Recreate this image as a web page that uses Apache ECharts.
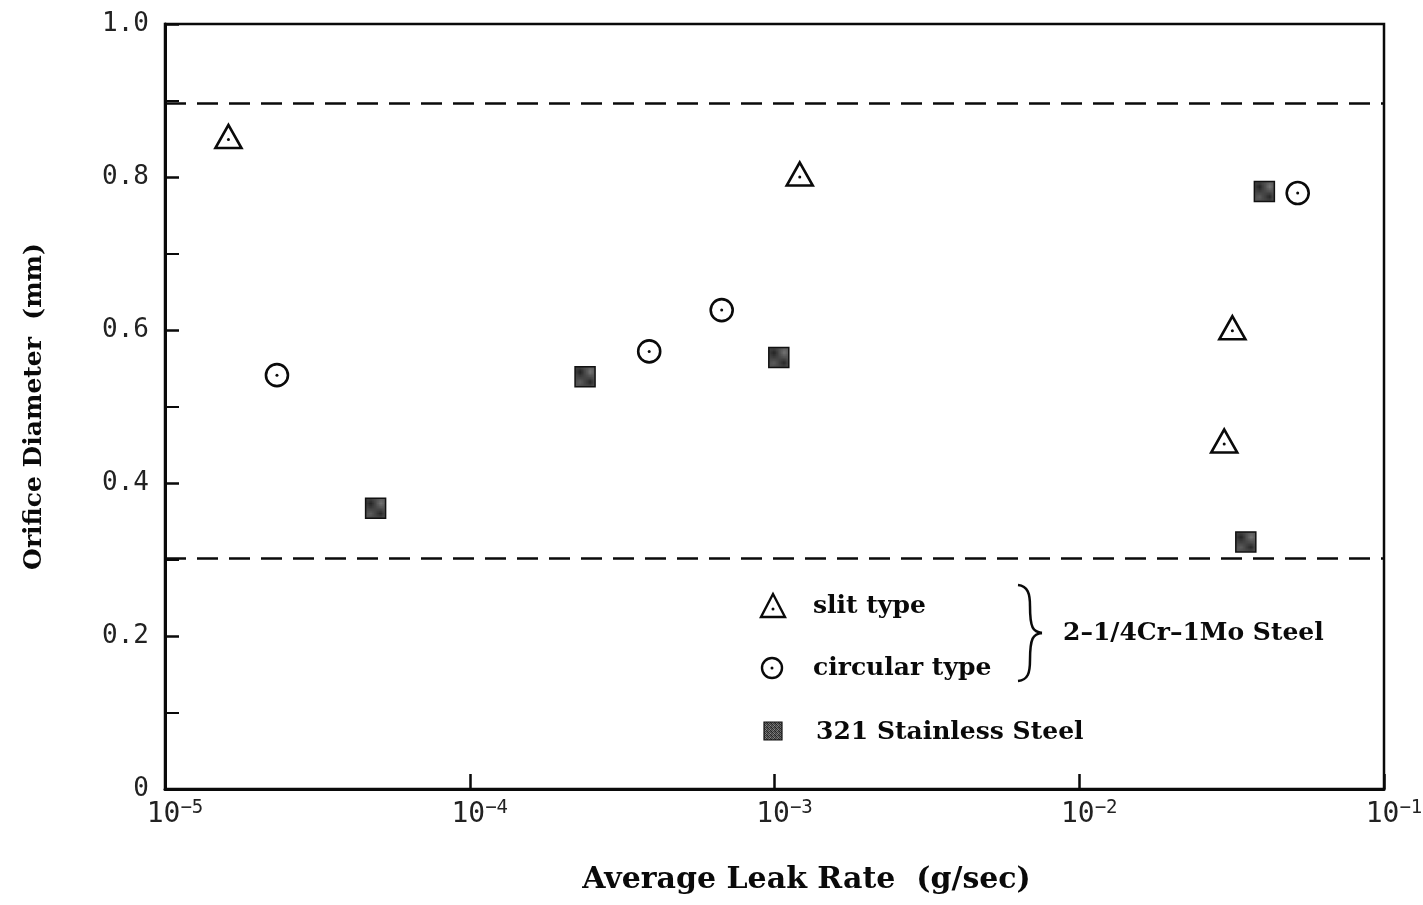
<!DOCTYPE html>
<html>
<head>
<meta charset="utf-8">
<script src="https://cdn.jsdelivr.net/npm/echarts@6/dist/echarts.min.js"></script>
<style>
  html, body { margin: 0; padding: 0; background: #fff; }
  #chart { width: 1423px; height: 905px; }
</style>
</head>
<body>
<div id="chart"></div>
<script>
// Average leak rate (g/sec) vs orifice diameter (mm)
const slitLeak = [1.615e-5, 1.21e-3, 3.18e-2, 2.99e-2];
const slitDiam = [0.853, 0.804, 0.603, 0.455];
const circLeak = [2.33e-5, 3.88e-4, 6.71e-4, 5.21e-2];
const circDiam = [0.541, 0.572, 0.626, 0.779];
const ssLeak = [4.91e-5, 2.39e-4, 1.033e-3, 4.05e-2, 3.52e-2];
const ssDiam = [0.367, 0.539, 0.564, 0.781, 0.323];
const limitLines = [0.896, 0.302];
const yTickLabels = { 0: '0', 0.2: '0.2', 0.4: '0.4', 0.6: '0.6', 0.8: '0.8', 1: '1.0' };

const INK = '#0a0a0a';
const SERIF = '"DejaVu Serif", "Liberation Serif", serif';
const MONO = '"DejaVu Sans Mono", "Liberation Mono", monospace';

const pairs = (xs, ys) => xs.map((x, i) => [x, ys[i]]);

// stippled grey fill for the stainless-steel squares
function stipple() {
  const c = document.createElement('canvas');
  c.width = 4; c.height = 4;
  const g = c.getContext('2d');
  const shades = ['#262626', '#7a7a7a', '#404040', '#5d5d5d',
                  '#676767', '#2f2f2f', '#888', '#363636',
                  '#444', '#808080', '#2b2b2b', '#626262',
                  '#757575', '#393939', '#585858', '#222'];
  shades.forEach((s, i) => { g.fillStyle = s; g.fillRect(i % 4, Math.floor(i / 4), 1, 1); });
  return { image: c, repeat: 'repeat' };
}
const ssFill = stipple();

const chart = echarts.init(document.getElementById('chart'), null, { renderer: 'canvas' });

const dotSeries = (data) => ({
  type: 'scatter', data, symbol: 'circle', symbolSize: 3, silent: true,
  itemStyle: { color: INK, opacity: 1 }, z: 5
});

// curly brace as four cubic segments
const braceStyle = { fill: 'none', stroke: INK, lineWidth: 2.5 };
const brace = [
  { x1: 1018, y1: 585, cpx1: 1028, cpy1: 586, cpx2: 1030, cpy2: 594, x2: 1030, y2: 606 },
  { x1: 1030, y1: 606, cpx1: 1030, cpy1: 628, cpx2: 1033, cpy2: 632, x2: 1042, y2: 633 },
  { x1: 1042, y1: 633, cpx1: 1033, cpy1: 634, cpx2: 1030, cpy2: 638, x2: 1030, y2: 660 },
  { x1: 1030, y1: 660, cpx1: 1030, cpy1: 673, cpx2: 1028, cpy2: 680, x2: 1018, y2: 681 }
].map((shape) => ({ type: 'bezierCurve', shape, style: braceStyle }));

const legendFont = 'bold 25px ' + SERIF;

chart.setOption({
  animation: false,
  backgroundColor: '#fff',
  grid: {
    left: 165, right: 39, top: 24, bottom: 116,
    outerBoundsMode: 'none', containLabel: false,
    show: true, borderColor: INK, borderWidth: 2.5, backgroundColor: 'transparent'
  },
  xAxis: {
    type: 'log', logBase: 10, min: 1e-5, max: 1e-1,
    name: 'Average Leak Rate  (g/sec)',
    nameLocation: 'middle', nameGap: 76,
    nameTextStyle: { fontFamily: SERIF, fontWeight: 'bold', fontSize: 30, color: INK, padding: [0, 0, 0, 64] },
    axisLine: { lineStyle: { color: INK, width: 3 } },
    axisTick: { inside: true, length: 15, lineStyle: { color: INK, width: 2.5 } },
    minorTick: { show: false },
    splitLine: { show: false },
    axisLabel: {
      margin: 10,
      padding: [0, 0, 0, 20],
      formatter: (v) => '{b|10}{s|\u2212' + Math.abs(Math.round(Math.log10(v))) + '}',
      rich: {
        b: { fontFamily: MONO, fontSize: 28, color: '#222', verticalAlign: 'bottom', lineHeight: 30 },
        s: { fontFamily: MONO, fontSize: 19, color: '#222', verticalAlign: 'top', lineHeight: 30, padding: [0, 0, 14, 0] }
      }
    }
  },
  yAxis: {
    type: 'value', min: 0, max: 1, interval: 0.2,
    name: 'Orifice Diameter  (mm)',
    nameLocation: 'middle', nameGap: 118, nameRotate: 90,
    nameTextStyle: { fontFamily: SERIF, fontWeight: 'bold', fontSize: 25, color: INK },
    axisLine: { show: true, lineStyle: { color: INK, width: 3 } },
    axisTick: { inside: true, length: 14, lineStyle: { color: INK, width: 2.5 } },
    minorTick: { show: true, splitNumber: 2, length: 14, lineStyle: { color: INK, width: 2 } },
    splitLine: { show: false },
    axisLabel: {
      margin: 16, fontFamily: MONO, fontSize: 26, color: '#222',
      formatter: (v) => yTickLabels[Math.round(v * 10) / 10] ?? ''
    }
  },
  series: [
    {
      name: 'slit type', type: 'scatter', data: pairs(slitLeak, slitDiam),
      symbol: 'triangle', symbolSize: [26, 23],
      itemStyle: { color: '#fff', borderColor: INK, borderWidth: 2.6, opacity: 1 },
      markLine: {
        silent: true, symbol: 'none', label: { show: false }, precision: 3,
        lineStyle: { color: INK, width: 2.5, type: [21, 11] },
        data: limitLines.map((v) => ({ yAxis: v }))
      },
      z: 4
    },
    dotSeries(pairs(slitLeak, slitDiam).map(([x, y]) => [x, y - 0.004])),
    {
      name: 'circular type', type: 'scatter', data: pairs(circLeak, circDiam),
      symbol: 'circle', symbolSize: 22,
      itemStyle: { color: '#fff', borderColor: INK, borderWidth: 2.6, opacity: 1 },
      z: 4
    },
    dotSeries(pairs(circLeak, circDiam)),
    {
      name: '321 Stainless Steel', type: 'scatter', data: pairs(ssLeak, ssDiam),
      symbol: 'rect', symbolSize: 20,
      itemStyle: { color: ssFill, borderColor: '#111', borderWidth: 1.5, opacity: 1 },
      z: 4
    }
  ],
  graphic: [
    // legend key
    { type: 'polygon', shape: { points: [[773, 594], [761, 617], [785, 617]] },
      style: { fill: '#fff', stroke: INK, lineWidth: 2.4 } },
    { type: 'circle', shape: { cx: 773, cy: 609, r: 1.5 }, style: { fill: INK } },
    { type: 'circle', shape: { cx: 772, cy: 668, r: 10 },
      style: { fill: '#fff', stroke: INK, lineWidth: 2.4 } },
    { type: 'circle', shape: { cx: 772, cy: 668, r: 1.5 }, style: { fill: INK } },
    { type: 'rect', shape: { x: 764, y: 722, width: 18, height: 18 },
      style: { fill: ssFill, stroke: '#111', lineWidth: 1.2 } },
    { type: 'text', left: 813, top: 594,
      style: { text: 'slit type', font: legendFont, fill: INK } },
    { type: 'text', left: 813, top: 656,
      style: { text: 'circular type', font: legendFont, fill: INK } },
    { type: 'text', left: 816, top: 720,
      style: { text: '321 Stainless Steel', font: legendFont, fill: INK } },
    ...brace,
    { type: 'text', left: 1063, top: 621,
      style: { text: '2\u20131/4Cr\u20131Mo Steel', font: legendFont, fill: INK } }
  ]
});
</script>
</body>
</html>
